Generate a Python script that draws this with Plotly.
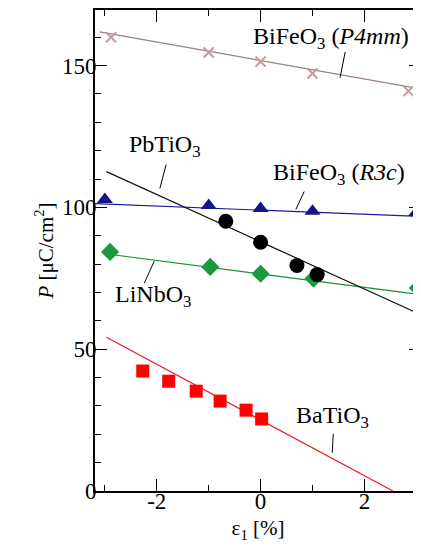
import plotly.graph_objects as go

# ---- data ----
p4mm_x = [-2.88, -1.0, 0.0, 1.0, 2.85]
p4mm_y = [160.0, 154.6, 151.4, 147.2, 141.0]
p4mm_fit_x = [-3.1, 3.09]
p4mm_fit_y = [161.9, 141.7]

r3c_x = [-3.0, -1.0, 0.0, 1.0, 3.0]
r3c_y = [102.8, 100.7, 99.6, 98.6, 98.2]
r3c_fit_x = [-3.19, 3.09]
r3c_fit_y = [101.3, 96.8]

pto_x = [-0.67, 0.0, 0.70, 1.09]
pto_y = [95.1, 87.7, 79.5, 76.3]
pto_fit_x = [-2.97, 3.0]
pto_fit_y = [112.6, 62.9]

lno_x = [-2.9, -0.97, 0.0, 1.02, 3.03]
lno_y = [84.3, 79.0, 76.6, 74.9, 71.6]
lno_fit_x = [-2.85, 3.02]
lno_fit_y = [83.3, 69.4]

bto_x = [-2.27, -1.77, -1.24, -0.78, -0.28, 0.02]
bto_y = [42.3, 38.7, 35.2, 31.7, 28.5, 25.4]
bto_fit_x = [-2.97, 2.55]
bto_fit_y = [54.2, 0.0]

x_tickvals = [-2, 0, 2]
y_tickvals = [0, 50, 100, 150]

FONT = "Liberation Serif"

fig = go.Figure()

def add_series(fx, fy, px, py, lcolor, mcolor, symbol, size, lw=1.2, mline=None):
    fig.add_trace(go.Scatter(x=fx, y=fy, mode="lines",
                             line=dict(color=lcolor, width=lw), showlegend=False,
                             hoverinfo="skip"))
    marker = dict(color=mcolor, symbol=symbol, size=size)
    if mline:
        marker["line"] = mline
    fig.add_trace(go.Scatter(x=px, y=py, mode="markers", marker=marker,
                             showlegend=False))

add_series(p4mm_fit_x, p4mm_fit_y, p4mm_x, p4mm_y, "#9a8080", "#c09a9a",
           "x-thin", 10, mline=dict(color="#c09a9a", width=2))
add_series(r3c_fit_x, r3c_fit_y, r3c_x, r3c_y, "#1c1c90", "#14148c", "triangle-up", 14)
add_series(lno_fit_x, lno_fit_y, lno_x, lno_y, "#1a8a3a", "#1a9a3c", "diamond", 14)
add_series(pto_fit_x, pto_fit_y, pto_x, pto_y, "#111111", "#000000", "circle", 15)
add_series(bto_fit_x, bto_fit_y, bto_x, bto_y, "#e8202a", "#ff0000", "square", 13)

# right-side mirror ticks (no spine)
fig.add_trace(go.Scatter(x=[None], y=[None], yaxis="y2", showlegend=False))

labels = [
    ("BiFeO<sub>3</sub> (<i>P4mm</i>)", 1.36, 159.6),
    ("PbTiO<sub>3</sub>", -1.84, 121.6),
    ("BiFeO<sub>3</sub> (<i>R3c</i>)", 1.51, 111.8),
    ("LiNbO<sub>3</sub>", -2.07, 68.9),
    ("BaTiO<sub>3</sub>", 1.38, 26.0),
]
for t, x, y in labels:
    fig.add_annotation(x=x, y=y, text=t, showarrow=False, xanchor="center",
                       yanchor="middle", font=dict(family=FONT, size=24, color="#000"))

leaders = [
    ((1.63, 154.8), (1.53, 145.7)),
    ((-1.82, 115.1), (-1.94, 106.7)),
    ((0.84, 105.6), (0.68, 99.3)),
    ((-2.05, 81.0), (-2.24, 73.3)),
    ((1.40, 20.2), (1.38, 13.5)),
]
for (x0, y0), (x1, y1) in leaders:
    fig.add_shape(type="line", x0=x0, y0=y0, x1=x1, y1=y1,
                  line=dict(color="#000", width=1))

fig.update_layout(
    width=413, height=540,
    margin=dict(l=87, r=0, t=0, b=57),
    plot_bgcolor="white", paper_bgcolor="white",
    font=dict(family=FONT, size=22, color="#000"),
    xaxis=dict(range=[-3.19, 3.09], tickvals=x_tickvals, ticktext=["-2", "0", "2"],
               ticks="inside", ticklen=12, tickwidth=1.3, tickcolor="#000",
               showline=True, linecolor="#000", linewidth=2, mirror="ticks",
               showgrid=False, zeroline=False, ticklabelstandoff=-12,
               minor=dict(ticks="inside", dtick=1, tick0=0, ticklen=6, tickcolor="#000", tickwidth=1.3),
               tickfont=dict(family=FONT, size=23),
               title=dict(text="ε<sub>1</sub> [%]", font=dict(family=FONT, size=21), standoff=8)),
    yaxis=dict(range=[0, 169.6], tickvals=y_tickvals,
               ticks="inside", ticklen=12, tickwidth=1.3, tickcolor="#000",
               showline=True, linecolor="#000", linewidth=2, mirror=False,
               showgrid=False, zeroline=False, ticklabelstandoff=-8,
               minor=dict(ticks="inside", dtick=10, tick0=0, ticklen=6, tickcolor="#000", tickwidth=1.3),
               tickfont=dict(family=FONT, size=23),
               title=dict(text="<i>P</i> [μC/cm<sup>2</sup>]", font=dict(family=FONT, size=21), standoff=3)),
    yaxis2=dict(range=[0, 169.6], overlaying="y", side="right", tickvals=y_tickvals,
                ticks="inside", ticklen=12, tickwidth=1.3, tickcolor="#000",
                showticklabels=False, showline=False, showgrid=False, zeroline=False,
                minor=dict(ticks="inside", dtick=10, tick0=0, ticklen=6, tickcolor="#000", tickwidth=1.3)),
)

fig.write_html("out.html")
